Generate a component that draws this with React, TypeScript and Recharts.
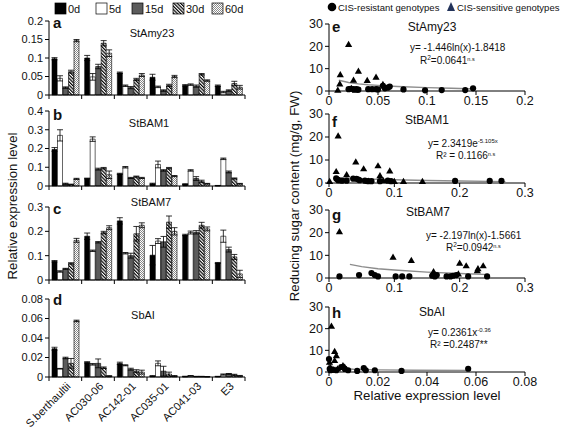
import React from 'react';
import { BarChart, Bar, XAxis, YAxis, ErrorBar, ScatterChart, Scatter } from 'recharts';

const categories = ['S.berthaultii', 'AC030-06', 'AC142-01', 'AC035-01', 'AC041-03', 'E3'];
const seriesNames = ['0d', '5d', '15d', '30d', '60d'];

// rows = series (0d,5d,15d,30d,60d), columns = categories
const amyMean = [
  [0.098, 0.1, 0.06, 0.048, 0.026, 0.025],
  [0.045, 0.049, 0.025, 0.022, 0.028, 0.008],
  [0.02, 0.077, 0.02, 0.012, 0.024, 0.012],
  [0.063, 0.14, 0.042, 0.026, 0.056, 0.031],
  [0.147, 0.113, 0.054, 0.05, 0.039, 0.021],
];
const amyErr = [
  [0.003, 0.007, 0.002, 0.008, 0.002, 0.002],
  [0.007, 0.009, 0.002, 0.002, 0.002, 0.002],
  [0.002, 0.006, 0.003, 0.002, 0.003, 0.002],
  [0.004, 0.007, 0.003, 0.003, 0.002, 0.006],
  [0.003, 0.009, 0.004, 0.003, 0.002, 0.005],
];
const bam1Mean = [
  [0.195, 0.04, 0.065, 0.012, 0.01, 0.002],
  [0.27, 0.25, 0.1, 0.115, 0.083, 0.145],
  [0.012, 0.09, 0.043, 0.083, 0.04, 0.075],
  [0.008, 0.095, 0.05, 0.095, 0.025, 0.04],
  [0.038, 0.06, 0.043, 0.053, 0.012, 0.012],
];
const bam1Err = [
  [0.01, 0.002, 0.003, 0.003, 0.002, 0.001],
  [0.03, 0.012, 0.004, 0.018, 0.004, 0.004],
  [0.003, 0.005, 0.003, 0.004, 0.01, 0.005],
  [0.002, 0.004, 0.003, 0.004, 0.006, 0.003],
  [0.003, 0.02, 0.003, 0.003, 0.002, 0.002],
];
const bam7Mean = [
  [0.077, 0.18, 0.243, 0.102, 0.185, 0.07],
  [0.035, 0.12, 0.11, 0.16, 0.195, 0.18],
  [0.046, 0.155, 0.1, 0.157, 0.196, 0.125],
  [0.068, 0.195, 0.19, 0.238, 0.225, 0.095],
  [0.163, 0.215, 0.225, 0.2, 0.21, 0.025],
];
const bam7Err = [
  [0.003, 0.013, 0.013, 0.04, 0.003, 0.002],
  [0.003, 0.003, 0.003, 0.01, 0.006, 0.025],
  [0.002, 0.003, 0.01, 0.022, 0.007, 0.01],
  [0.003, 0.005, 0.03, 0.025, 0.012, 0.01],
  [0.008, 0.008, 0.01, 0.015, 0.008, 0.015],
];
const sbaiMean = [
  [0.029, 0.015, 0.014, 0.001, 0.0005, 0.0005],
  [0.0085, 0.013, 0.012, 0.014, 0.0012, 0.0025],
  [0.0195, 0.014, 0.008, 0.006, 0.0005, 0.0032],
  [0.014, 0.0095, 0.006, 0.003, 0.0005, 0.0022],
  [0.0575, 0.001, 0.005, 0.001, 0.0003, 0.0012],
];
const sbaiErr = [
  [0.0015, 0.0007, 0.0012, 0.0004, 0.0003, 0.0002],
  [0.0003, 0.0008, 0.0005, 0.0025, 0.0003, 0.0006],
  [0.0008, 0.0045, 0.001, 0.005, 0.0002, 0.0004],
  [0.005, 0.0008, 0.0015, 0.002, 0.0002, 0.0006],
  [0.0008, 0.0003, 0.002, 0.0005, 0.0001, 0.0004],
];

const amyTicks = [0, 0.05, 0.1, 0.15, 0.2];
const bam1Ticks = [0, 0.1, 0.2, 0.3, 0.4];
const bam7Ticks = [0, 0.1, 0.2, 0.3];
const sbaiTicks = [0, 0.02, 0.04, 0.06, 0.08];

// scatter: [x, y]
const eRes = [[0.02, 0.8], [0.022, 1.0], [0.025, 0.8], [0.028, 0.8], [0.03, 0.6], [0.04, 0.8], [0.044, 0.8], [0.048, 0.8], [0.05, 0.7], [0.055, 2.3], [0.057, 1.2], [0.06, 1.5], [0.062, 2.0], [0.076, 0.7], [0.098, 0.3], [0.115, 0.4], [0.139, 0.4], [0.147, 1.2]];
const eSen = [[0.009, 0.4], [0.0115, 7.3], [0.011, 3.2], [0.02, 20.9], [0.023, 1.2], [0.025, 4.9], [0.027, 0.4], [0.03, 8.9], [0.039, 4.8], [0.048, 6.2], [0.055, 3.0]];
const eTrend = [[0.01, 4.8], [0.02, 3.8], [0.03, 3.2], [0.04, 2.8], [0.05, 2.5], [0.07, 2.0], [0.1, 1.5], [0.125, 1.2], [0.15, 0.9]];

const fRes = [[0.011, 2.0], [0.013, 1.5], [0.015, 1.2], [0.02, 1.0], [0.027, 1.0], [0.037, 1.9], [0.042, 1.8], [0.045, 1.5], [0.047, 1.2], [0.055, 1.0], [0.06, 0.8], [0.065, 0.8], [0.078, 0.8], [0.09, 1.0], [0.095, 0.8], [0.193, 0.9], [0.246, 0.9], [0.264, 0.9]];
const fSen = [[0.001, 0.7], [0.011, 5.0], [0.014, 20.5], [0.027, 3.6], [0.041, 9.2], [0.053, 6.2], [0.075, 7.5], [0.078, 3.2], [0.093, 5.3], [0.083, 1.0], [0.1, 0.7], [0.114, 0.7], [0.143, 0.7], [0.016, 1.0], [0.06, 0.8]];
const fTrend = [[0.01, 2.2], [0.05, 1.8], [0.1, 1.4], [0.15, 1.1], [0.2, 0.85], [0.27, 0.6]];

const gRes = [[0.016, 0.7], [0.046, 1.3], [0.065, 2.2], [0.07, 1.3], [0.075, 0.7], [0.102, 0.7], [0.112, 0.7], [0.123, 0.7], [0.158, 1.0], [0.162, 0.7], [0.165, 1.3], [0.18, 0.7], [0.186, 0.7], [0.19, 1.0], [0.195, 1.3], [0.213, 0.7], [0.242, 0.7]];
const gSen = [[0.016, 20.5], [0.098, 9.2], [0.126, 7.8], [0.159, 1.9], [0.16, 2.8], [0.162, 1.5], [0.2, 6.6], [0.21, 5.4], [0.227, 3.2], [0.228, 4.1], [0.236, 5.4], [0.198, 1.8]];
const gTrend = [[0.032, 6.0], [0.05, 5.0], [0.075, 4.1], [0.1, 3.5], [0.15, 2.6], [0.2, 2.0], [0.245, 1.5]];

const hRes = [[0.0, 6.0], [0.0003, 1.5], [0.0006, 0.8], [0.0016, 1.0], [0.003, 0.8], [0.005, 2.3], [0.0064, 1.5], [0.0078, 0.8], [0.0115, 0.5], [0.0142, 1.8], [0.015, 0.8], [0.0187, 0.8], [0.0296, 0.5], [0.0568, 1.5]];
const hSen = [[0.001, 21.2], [0.0023, 9.5], [0.003, 7.6], [0.0023, 5.3], [0.0002, 4.5], [0.0005, 2.0], [0.0057, 3.0], [0.0064, 2.3], [0.007, 1.2], [0.001, 1.0], [0.0035, 1.5]];
const hTrend = [[0.0003, 4.3], [0.001, 2.8], [0.002, 2.2], [0.005, 1.6], [0.01, 1.25], [0.02, 0.97], [0.035, 0.8], [0.058, 0.66]];

const yTicksSugar = [0, 10, 20, 30];
const eXTicks = [0, 0.05, 0.1, 0.15, 0.2];
const fXTicks = [0, 0.1, 0.2, 0.3];
const hXTicks = [0, 0.02, 0.04, 0.06, 0.08];

const FONT = '"Liberation Sans", Arial, sans-serif';
const fills = ['#000', '#fff', '#5c5c5c', 'url(#hatch30)', 'url(#dots60)'];
const LEFT_W = 250;
const LEFT_Y_W = 49;
const LEFT_RIGHT_M = 5;
const PLOT_W = LEFT_W - LEFT_Y_W - LEFT_RIGHT_M;

const fmt = (v: number) => String(v);

const CatTick = (props: any) => {
  const { x, y, payload, index, showLabels } = props;
  const bw = PLOT_W / categories.length;
  return (
    <g>
      <line x1={x - bw / 2} x2={x - bw / 2} y1={y} y2={y + 4} stroke="#000" strokeWidth={1} />
      {index === categories.length - 1 && <line x1={x + bw / 2} x2={x + bw / 2} y1={y} y2={y + 4} stroke="#000" strokeWidth={1} />}
      {showLabels && (
        <g transform={`translate(${x + 6}, ${y + 10}) rotate(-45)`}>
          <text x={0} y={0} textAnchor="end" fontSize={11} fill="#111" fontFamily={FONT}>
            {payload.value}
          </text>
        </g>
      )}
    </g>
  );
};

function BarPanel(props: any) {
  const { top, height, marginTop, xh, mean, err, ticks, showLabels } = props;
  const data = categories.map((c, i) => {
    const row: any = { cat: c };
    mean.forEach((s: number[], k: number) => {
      row['v' + k] = s[i];
      row['e' + k] = err[k][i];
    });
    return row;
  });
  return (
    <div style={{ position: 'absolute', left: 0, top, width: LEFT_W, height }}>
      <BarChart width={LEFT_W} height={height} data={data} margin={{ top: marginTop, right: LEFT_RIGHT_M, bottom: 0, left: 0 }} barSize={5} barGap={0.5}>
        <XAxis dataKey="cat" height={xh} interval={0} tickLine={false} tickSize={0} tickMargin={0} axisLine={{ stroke: '#000' }}
          tick={(p: any) => <CatTick {...p} showLabels={showLabels} />} />
        <YAxis width={LEFT_Y_W} type="number" domain={[0, ticks[ticks.length - 1]]} ticks={ticks} interval={0} tickSize={4} tickMargin={2}
          axisLine={{ stroke: '#000' }} tickLine={{ stroke: '#000' }} tick={{ fontSize: 11, fill: '#111', fontFamily: FONT }} tickFormatter={fmt} />
        {seriesNames.map((n, k) => (
          <Bar key={n} dataKey={'v' + k} fill={fills[k]} stroke="#000" strokeWidth={0.6} isAnimationActive={false}>
            <ErrorBar dataKey={'e' + k} width={3} stroke="#000" strokeWidth={0.8} />
          </Bar>
        ))}
      </BarChart>
    </div>
  );
}

const toPts = (arr: number[][]) => arr.map(([x, y]) => ({ x, y }));
const CircleShape = (p: any) => <circle cx={p.cx} cy={p.cy} r={3.1} fill="#000" />;
const TriShape = (p: any) => <path d={`M${p.cx},${p.cy - 3.6} L${p.cx + 3.6},${p.cy + 2.6} L${p.cx - 3.6},${p.cy + 2.6} Z`} fill="#000" />;
const NoShape = () => <g />;

function ScatterPanel(props: any) {
  const { top, height, marginTop, xh, xTicks, res, sen, trend } = props;
  return (
    <div style={{ position: 'absolute', left: 280, top, width: 262, height }}>
      <ScatterChart width={262} height={height} margin={{ top: marginTop, right: 17, bottom: 0, left: 0 }}>
        <XAxis dataKey="x" type="number" height={xh} domain={[0, xTicks[xTicks.length - 1]]} ticks={xTicks} interval={0} tickSize={4} tickMargin={1}
          axisLine={{ stroke: '#000' }} tickLine={{ stroke: '#000' }} tick={{ fontSize: 12.5, fill: '#111', fontFamily: FONT }} tickFormatter={fmt} />
        <YAxis dataKey="y" type="number" width={49} domain={[0, 30]} ticks={yTicksSugar} interval={0} tickSize={4} tickMargin={2}
          axisLine={{ stroke: '#000' }} tickLine={{ stroke: '#000' }} tick={{ fontSize: 12.5, fill: '#111', fontFamily: FONT }} />
        <Scatter data={toPts(trend)} line={{ stroke: '#8c8c8c', strokeWidth: 1.4 }} shape={NoShape} isAnimationActive={false} />
        <Scatter data={toPts(res)} shape={CircleShape} isAnimationActive={false} />
        <Scatter data={toPts(sen)} shape={TriShape} isAnimationActive={false} />
      </ScatterChart>
    </div>
  );
}

const txt = { fontFamily: FONT, fill: '#111' } as any;

export default function App() {
  return (
    <div style={{ position: 'absolute', left: 0, top: 0, width: 562, height: 429, background: '#fff', fontFamily: FONT, overflow: 'hidden' }}>
      <svg width={0} height={0} style={{ position: 'absolute' }}>
        <defs>
          <pattern id="hatch30" patternUnits="userSpaceOnUse" width={2.4} height={2.4} patternTransform="rotate(-45)">
            <rect width={2.4} height={2.4} fill="#fff" />
            <line x1={0.6} y1={0} x2={0.6} y2={2.4} stroke="#000" strokeWidth={1.2} />
          </pattern>
          <pattern id="dots60" patternUnits="userSpaceOnUse" width={2} height={2}>
            <rect width={2} height={2} fill="#fff" />
            <rect x={0} y={0} width={1} height={1} fill="#8a8a8a" />
            <rect x={1} y={1} width={1} height={1} fill="#8a8a8a" />
          </pattern>
        </defs>
      </svg>

      <BarPanel top={0} height={101} marginTop={21} xh={6} mean={amyMean} err={amyErr} ticks={amyTicks} />
      <BarPanel top={93} height={99} marginTop={18} xh={6} mean={bam1Mean} err={bam1Err} ticks={bam1Ticks} />
      <BarPanel top={184} height={102} marginTop={23} xh={6} mean={bam7Mean} err={bam7Err} ticks={bam7Ticks} />
      <BarPanel top={278} height={151} marginTop={21} xh={52} mean={sbaiMean} err={sbaiErr} ticks={sbaiTicks} showLabels />

      <ScatterPanel top={0} height={111} marginTop={24} xh={20} xTicks={eXTicks} res={eRes} sen={eSen} trend={eTrend} />
      <ScatterPanel top={103} height={100} marginTop={11} xh={20} xTicks={fXTicks} res={fRes} sen={fSen} trend={fTrend} />
      <ScatterPanel top={195} height={103} marginTop={15} xh={20} xTicks={fXTicks} res={gRes} sen={gSen} trend={gTrend} />
      <ScatterPanel top={290} height={139} marginTop={17} xh={57} xTicks={hXTicks} res={hRes} sen={hSen} trend={hTrend} />

      <svg width={562} height={429} style={{ position: 'absolute', left: 0, top: 0, pointerEvents: 'none' }}>
        {/* left legend */}
        {seriesNames.map((n, k) => {
          const xs = [55, 96, 132, 173, 212];
          return (
            <g key={n}>
              <rect x={xs[k]} y={3} width={11} height={11} fill={fills[k]} stroke="#000" strokeWidth={0.7} />
              <text x={xs[k] + 13} y={13} fontSize={11} {...txt}>{n}</text>
            </g>
          );
        })}
        {/* right legend */}
        <circle cx={332} cy={7} r={4.3} fill="#000" />
        <text x={338} y={10.5} fontSize={9.5} {...txt}>CIS-resistant  genotypes</text>
        <path d="M451,2 L455,11 L447,11 Z" fill="#23335a" />
        <text x={457} y={10.5} fontSize={9.5} {...txt}>CIS-sensitive genotypes</text>

        {/* panel letters left */}
        <text x={53} y={28} fontSize={15} fontWeight="bold" {...txt}>a</text>
        <text x={53} y={120} fontSize={15} fontWeight="bold" {...txt}>b</text>
        <text x={53} y={214} fontSize={15} fontWeight="bold" {...txt}>c</text>
        <text x={53} y={305} fontSize={15} fontWeight="bold" {...txt}>d</text>
        {/* titles left */}
        <text x={152} y={37} fontSize={11} textAnchor="middle" {...txt}>StAmy23</text>
        <text x={149} y={127} fontSize={11} textAnchor="middle" {...txt}>StBAM1</text>
        <text x={151} y={206} fontSize={11} textAnchor="middle" {...txt}>StBAM7</text>
        <text x={143} y={319} fontSize={11} textAnchor="middle" {...txt}>SbAI</text>

        {/* panel letters right */}
        <text x={332} y={32} fontSize={15} fontWeight="bold" {...txt}>e</text>
        <text x={332} y={127} fontSize={15} fontWeight="bold" {...txt}>f</text>
        <text x={332} y={220} fontSize={15} fontWeight="bold" {...txt}>g</text>
        <text x={332} y={318} fontSize={15} fontWeight="bold" {...txt}>h</text>
        {/* titles right */}
        <text x={432} y={31} fontSize={12} textAnchor="middle" {...txt}>StAmy23</text>
        <text x={427} y={124} fontSize={12} textAnchor="middle" {...txt}>StBAM1</text>
        <text x={428} y={216} fontSize={12} textAnchor="middle" {...txt}>StBAM7</text>
        <text x={432} y={316} fontSize={12} textAnchor="middle" {...txt}>SbAI</text>

        {/* equations */}
        <text x={410} y={51} fontSize={10} {...txt}>y= -1.446ln(x)-1.8418</text>
        <text x={420} y={64} fontSize={10} {...txt}>R<tspan fontSize={6.5} dy={-4}>2</tspan><tspan dy={4}>=0.0641</tspan><tspan fontSize={5.5} dy={-3}>n.s</tspan></text>
        <text x={428} y={147} fontSize={10} {...txt}>y= 2.3419e<tspan fontSize={6} dy={-4}>-5.105x</tspan></text>
        <text x={436} y={159} fontSize={10} {...txt}>R² = 0.1166<tspan fontSize={5.5} dy={-3}>n.s</tspan></text>
        <text x={426} y={239} fontSize={10} {...txt}>y= -2.197ln(x)-1.5661</text>
        <text x={446} y={251} fontSize={10} {...txt}>R<tspan fontSize={6.5} dy={-4}>2</tspan><tspan dy={4}>=0.0942</tspan><tspan fontSize={5.5} dy={-3}>n.s</tspan></text>
        <text x={428} y={336} fontSize={10} {...txt}>y= 0.2361x<tspan fontSize={6} dy={-4}>-0.36</tspan></text>
        <text x={430} y={348} fontSize={10} {...txt}>R² =0.2487**</text>

        {/* axis titles */}
        <text x={17} y={206} fontSize={13.3} textAnchor="middle" transform="rotate(-90, 17, 206)" {...txt}>Relative expression level</text>
        <text x={299} y={196} fontSize={13.3} textAnchor="middle" transform="rotate(-90, 299, 196)" {...txt}>Reducing sugar content (mg/g, FW)</text>
        <text x={427} y={400} fontSize={13.3} textAnchor="middle" {...txt}>Relative expression level</text>
      </svg>
    </div>
  );
}
